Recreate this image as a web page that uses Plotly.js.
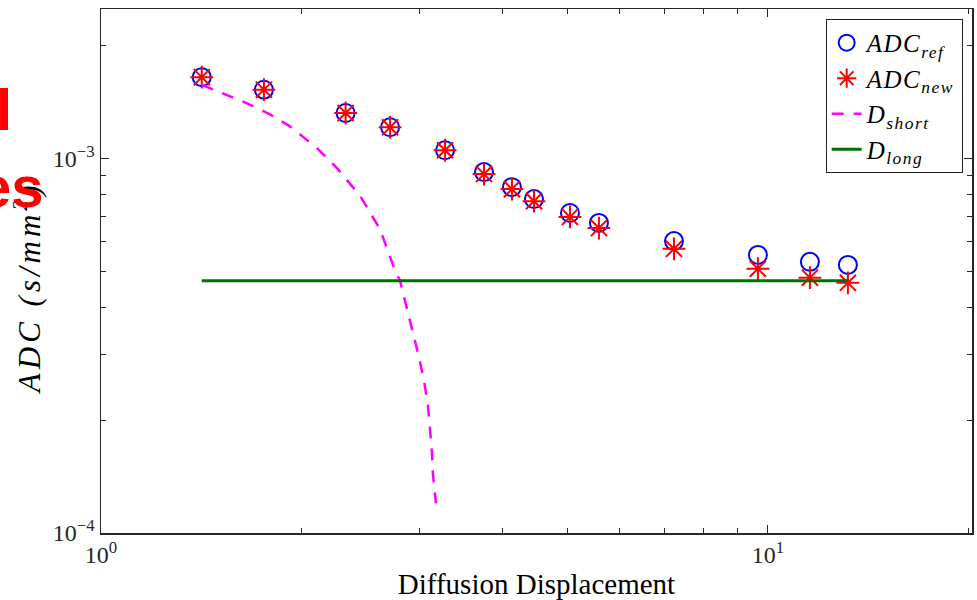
<!DOCTYPE html>
<html>
<head>
<meta charset="utf-8">
<script src="https://cdn.plot.ly/plotly-3.0.1.min.js"></script>
<style>
  html, body { margin: 0; padding: 0; background: #fff; }
  #chart { width: 977px; height: 600px; }
  /* wider glyph spacing for the math-style labels */
  .annotation[data-index="0"] text { letter-spacing: 4px; }
  .legendtext { letter-spacing: 1.5px; }
</style>
</head>
<body>
<div id="chart"></div>
<script>
// Diffusion displacement (x) and apparent diffusion coefficients (s/mm^2)
const displacement = [1.416, 1.755, 2.327, 2.713, 3.280, 3.752, 4.132, 4.459, 5.049, 5.580, 7.23, 9.66, 11.56, 13.18];
const adcRef = [1.645e-3, 1.523e-3, 1.320e-3, 1.209e-3, 1.050e-3, 0.918e-3, 0.837e-3, 0.778e-3, 0.714e-3, 0.672e-3, 0.601e-3, 0.552e-3, 0.529e-3, 0.519e-3];
const adcNew = [1.645e-3, 1.523e-3, 1.320e-3, 1.209e-3, 1.050e-3, 0.907e-3, 0.827e-3, 0.768e-3, 0.697e-3, 0.651e-3, 0.573e-3, 0.507e-3, 0.480e-3, 0.465e-3];

// Short-time asymptote
const shortX = [1.416, 1.524, 1.656, 1.792, 1.920, 2.108, 2.266, 2.450, 2.620, 2.760, 2.808, 2.906, 2.990, 3.050, 3.092, 3.113, 3.135, 3.146, 3.179];
const shortY = [1.570e-3, 1.489e-3, 1.401e-3, 1.309e-3, 1.216e-3, 1.063e-3, 0.935e-3, 0.790e-3, 0.647e-3, 0.501e-3, 0.471e-3, 0.368e-3, 0.300e-3, 0.255e-3, 0.219e-3, 0.190e-3, 0.164e-3, 0.143e-3, 0.120e-3];

// Long-time plateau
const longX = [1.416, 13.18];
const longY = [0.471e-3, 0.471e-3];

// Axis ticks
const xTickVals = [1, 10];
const xTickText = ['10<sup>0</sup>', '10<sup>1</sup>'];
const xMinorVals = [2, 3, 4, 5, 6, 7, 8, 9, 20];
const yTickVals = [1e-4, 1e-3];
const yTickText = ['10<sup>\u22124</sup>', '10<sup>\u22123</sup>'];
const yMinorVals = [2e-4, 3e-4, 4e-4, 5e-4, 6e-4, 7e-4, 8e-4, 9e-4, 2e-3];

const yLabel = '<i>ADC (s/mm<sup>2</sup>)</i>';

const serif = '"Liberation Serif", "DejaVu Serif", serif';
const sans = '"Liberation Sans", Arial, sans-serif';
const axisColor = '#262626';

const traces = [
  {
    x: displacement, y: adcRef, type: 'scatter', mode: 'markers',
    name: '<i>ADC<sub>ref</sub></i>',
    marker: { symbol: 'circle-open', size: 18, color: '#0000ff', line: { width: 2, color: '#0000ff' } }
  },
  {
    x: displacement, y: adcNew, type: 'scatter', mode: 'markers',
    name: '<i>ADC<sub>new</sub></i>',
    marker: { symbol: 'asterisk-open', size: 19, color: '#ff0000', line: { width: 2, color: '#ff0000' } }
  },
  {
    x: shortX, y: shortY, type: 'scatter', mode: 'lines',
    name: '<i>D<sub>short</sub></i>',
    line: { color: '#ff00ff', width: 2.5, dash: '12px,10px' }
  },
  {
    x: longX, y: longY, type: 'scatter', mode: 'lines',
    name: '<i>D<sub>long</sub></i>',
    line: { color: '#007000', width: 3 }
  }
];

const layout = {
  width: 977, height: 600,
  margin: { l: 101, r: 5, t: 9, b: 67 },
  paper_bgcolor: '#ffffff', plot_bgcolor: '#ffffff',
  showlegend: true,
  font: { family: serif, color: axisColor },
  xaxis: {
    type: 'log', range: [0, 1.306],
    tickmode: 'array', tickvals: xTickVals, ticktext: xTickText,
    ticks: 'inside', ticklen: 8, tickwidth: 1, tickcolor: axisColor,
    minor: { tickmode: 'array', tickvals: xMinorVals, ticks: 'inside', ticklen: 5, tickcolor: axisColor, showgrid: false },
    showline: true, linecolor: axisColor, linewidth: 1.5, mirror: 'allticks',
    showgrid: false, zeroline: false,
    tickfont: { family: serif, size: 24, color: axisColor },
    title: { text: 'Diffusion Displacement', font: { family: serif, size: 29, color: '#000000' }, standoff: 19 }
  },
  yaxis: {
    type: 'log', range: [-4, -2.602],
    tickmode: 'array', tickvals: yTickVals, ticktext: yTickText,
    ticks: 'inside', ticklen: 8, tickwidth: 1, tickcolor: axisColor,
    minor: { tickmode: 'array', tickvals: yMinorVals, ticks: 'inside', ticklen: 5, tickcolor: axisColor, showgrid: false },
    showline: true, linecolor: axisColor, linewidth: 1.5, mirror: 'allticks',
    showgrid: false, zeroline: false,
    tickfont: { family: serif, size: 24, color: axisColor }
  },
  legend: {
    x: 0.832, y: 0.981, xanchor: 'left', yanchor: 'top',
    bgcolor: '#ffffff', bordercolor: '#262626', borderwidth: 1,
    font: { family: serif, size: 25, color: '#000000' },
    tracegroupgap: 0
  },
  annotations: [
    // y-axis label
    { xref: 'paper', yref: 'paper', x: -0.0845, y: 0.468, xanchor: 'center', yanchor: 'middle',
      text: yLabel, textangle: -90, showarrow: false, font: { family: serif, size: 31, color: '#000000' } },
    { xref: 'paper', yref: 'paper', x: -0.0996, y: 0.742, xanchor: 'right', yanchor: 'bottom',
      text: '<b>l</b>', showarrow: false, font: { family: sans, size: 58, color: '#ff0000' } },
    { xref: 'paper', yref: 'paper', x: -0.0634, y: 0.596, xanchor: 'right', yanchor: 'bottom',
      text: '<b>es</b>', showarrow: false, font: { family: sans, size: 58, color: '#ff0000' } }
  ]
};

Plotly.newPlot('chart', traces, layout, { displayModeBar: false, staticPlot: true });
</script>
</body>
</html>
